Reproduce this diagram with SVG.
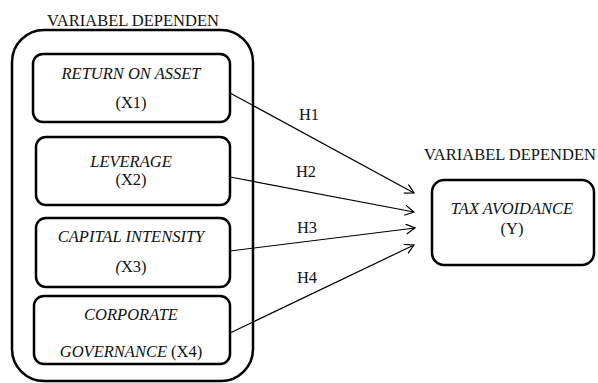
<svg xmlns="http://www.w3.org/2000/svg" width="598" height="383" viewBox="0 0 598 383">
<style>
.t{font-family:'Liberation Serif','Times New Roman',Times,'DejaVu Serif',serif;font-size:16.5px;fill:#111;text-anchor:middle}
.i{font-style:italic}
.box{fill:#fff;stroke:#000;stroke-width:2.5}
.outer{fill:#fff;stroke:#000;stroke-width:2.5}
.c{stroke:#000;stroke-width:1.2;fill:none}
</style>
<defs>
<marker id="arr" markerWidth="12" markerHeight="12" refX="10" refY="5" orient="auto" markerUnits="userSpaceOnUse">
<path d="M1,0 L10,5 L1,10" fill="none" stroke="#000" stroke-width="1.2"/>
</marker>
</defs>
<rect width="598" height="383" fill="#fff"/>
<g id="group-independen">
<text class="t" x="133" y="26">VARIABEL DEPENDEN</text>
<rect class="outer" x="12" y="30" width="241" height="351" rx="32" ry="32"/>
</g>
<g id="x1">
<rect class="box" x="33" y="54" width="197" height="68" rx="10"/>
<text class="t i" x="131" y="79">RETURN ON ASSET</text>
<text class="t" x="131" y="108">(X1)</text>
</g>
<g id="x2">
<rect class="box" x="36" y="137" width="194" height="68" rx="10"/>
<text class="t i" x="131" y="167">LEVERAGE</text>
<text class="t" x="131" y="185">(X2)</text>
</g>
<g id="x3">
<rect class="box" x="36" y="218" width="194" height="69" rx="10"/>
<text class="t i" x="131" y="242">CAPITAL INTENSITY</text>
<text class="t" x="131" y="272"><tspan class="i">(</tspan>X3)</text>
</g>
<g id="x4">
<rect class="box" x="34" y="296" width="196" height="68" rx="10"/>
<text class="t i" x="131" y="320">CORPORATE</text>
<text class="t" x="131" y="357"><tspan class="i">GOVERNANCE</tspan> (X4)</text>
</g>
<g id="y">
<text class="t" x="510" y="160">VARIABEL DEPENDEN</text>
<rect class="box" x="432" y="180" width="162" height="85" rx="12"/>
<text class="t i" x="512" y="214">TAX AVOIDANCE</text>
<text class="t" x="512" y="234">(Y)</text>
</g>
<g id="connectors">
<line class="c" x1="230" y1="93" x2="414" y2="193" marker-end="url(#arr)"/>
<line class="c" x1="230" y1="177" x2="414" y2="212" marker-end="url(#arr)"/>
<line class="c" x1="230" y1="251" x2="415" y2="228" marker-end="url(#arr)"/>
<line class="c" x1="230" y1="333" x2="414" y2="245" marker-end="url(#arr)"/>
<text class="t" x="309" y="120">H1</text>
<text class="t" x="306" y="177">H2</text>
<text class="t" x="307" y="233">H3</text>
<text class="t" x="307" y="283">H4</text>
</g>
</svg>
